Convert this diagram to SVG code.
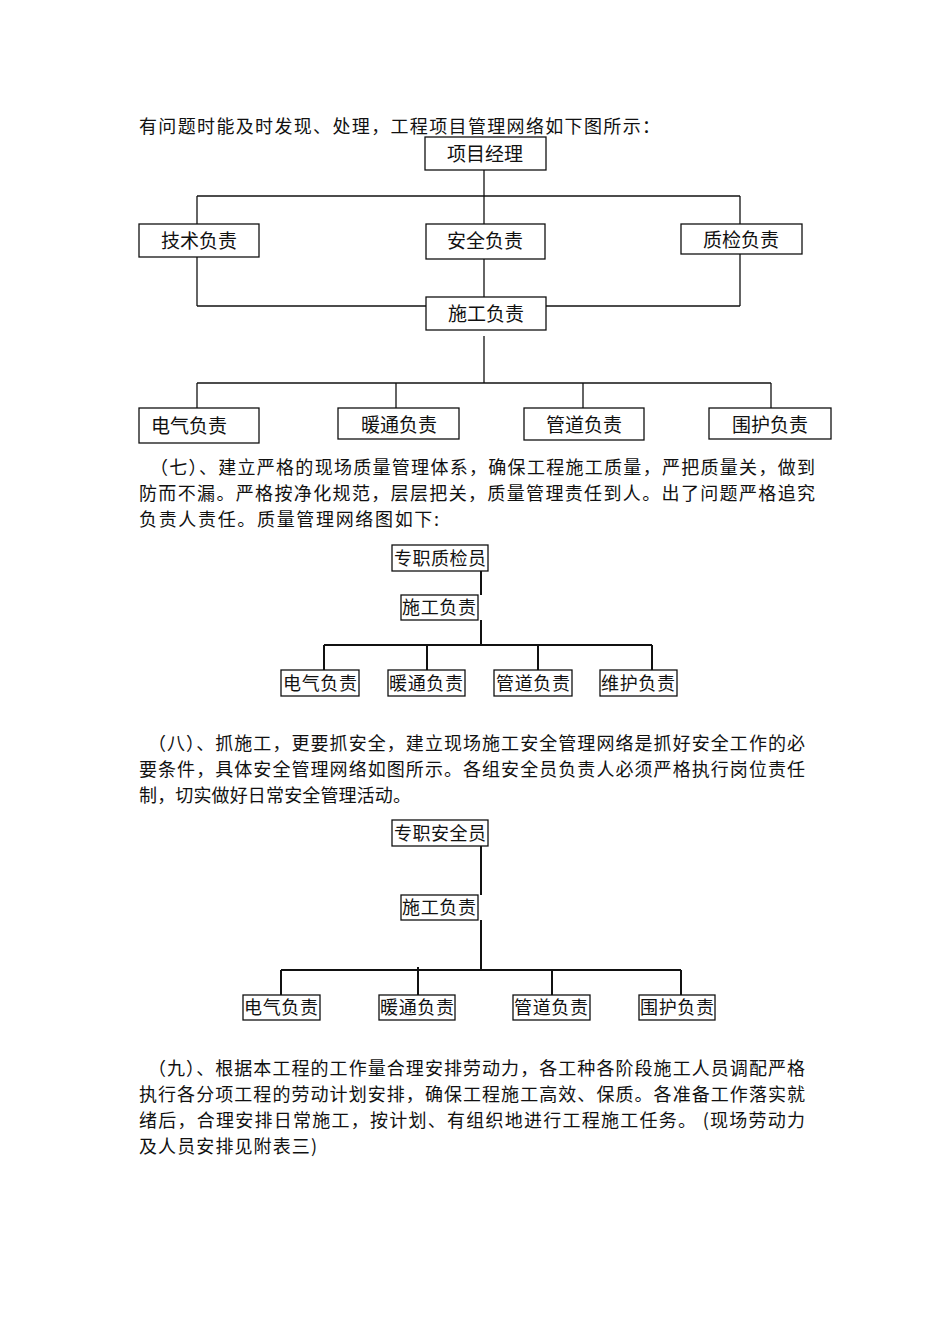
<svg xmlns="http://www.w3.org/2000/svg" width="950" height="1340" viewBox="0 0 950 1340">
<style>
text{font-family:"Noto Sans CJK SC","Liberation Serif",serif;fill:#111}
.p{font-size:18px}
.b{font-size:19px;text-anchor:middle}
.s{font-size:18px;text-anchor:middle}
rect{fill:#fff;stroke:#111;stroke-width:1.3}
.c line{stroke:#111;stroke-width:1.3}
.k line{stroke:#111;stroke-width:2}
</style>
<rect width="950" height="1340" style="fill:#fff;stroke:none"/>
<text class="p" x="139" y="133" textLength="521">有问题时能及时发现、处理，工程项目管理网络如下图所示：</text>
<g class="c" id="conn1">
<line x1="484" y1="170" x2="484" y2="224"/>
<line x1="197" y1="196" x2="740" y2="196"/>
<line x1="197" y1="196" x2="197" y2="224"/>
<line x1="740" y1="196" x2="740" y2="224"/>
<line x1="197" y1="257" x2="197" y2="306"/>
<line x1="197" y1="306" x2="426" y2="306"/>
<line x1="740" y1="254" x2="740" y2="306"/>
<line x1="546" y1="306" x2="740" y2="306"/>
<line x1="484" y1="259" x2="484" y2="297"/>
<line x1="484" y1="336" x2="484" y2="383"/>
<line x1="197" y1="383" x2="771" y2="383"/>
<line x1="197" y1="383" x2="197" y2="408"/>
<line x1="396" y1="383" x2="396" y2="408"/>
<line x1="583" y1="383" x2="583" y2="408"/>
<line x1="771" y1="383" x2="771" y2="408"/>
</g>
<g id="n1"><rect x="425" y="137" width="121" height="33"/><text class="b" x="485" y="161">项目经理</text></g>
<g id="n2"><rect x="139" y="224" width="120" height="33"/><text class="b" x="199" y="248">技术负责</text></g>
<g id="n3"><rect x="426" y="224" width="119" height="35"/><text class="b" x="485" y="248">安全负责</text></g>
<g id="n4"><rect x="681" y="224" width="121" height="30"/><text class="b" x="741" y="247">质检负责</text></g>
<g id="n5"><rect x="426" y="297" width="120" height="33"/><text class="b" x="486" y="321">施工负责</text></g>
<g id="n6"><rect x="139" y="408" width="120" height="35"/><text class="b" x="189" y="433">电气负责</text></g>
<g id="n7"><rect x="338" y="408" width="121" height="31"/><text class="b" x="399" y="432">暖通负责</text></g>
<g id="n8"><rect x="524" y="408" width="120" height="32"/><text class="b" x="584" y="432">管道负责</text></g>
<g id="n9"><rect x="709" y="408" width="122" height="31"/><text class="b" x="770" y="432">围护负责</text></g>

<text class="p" x="150" y="474" textLength="665">（七）、建立严格的现场质量管理体系，确保工程施工质量，严把质量关，做到</text>
<text class="p" x="139" y="500" textLength="676">防而不漏。严格按净化规范，层层把关，质量管理责任到人。出了问题严格追究</text>
<text class="p" x="139" y="526" textLength="300">负责人责任。质量管理网络图如下:</text>

<g class="k" id="conn2">
<line x1="481" y1="571" x2="481" y2="595"/>
<line x1="481" y1="620" x2="481" y2="645"/>
<line x1="324" y1="645" x2="652" y2="645"/>
<line x1="324" y1="645" x2="324" y2="670"/>
<line x1="427" y1="645" x2="427" y2="670"/>
<line x1="538" y1="645" x2="538" y2="670"/>
<line x1="652" y1="645" x2="652" y2="670"/>
</g>
<g id="q1"><rect x="392" y="545" width="96" height="26"/><text class="s" x="440" y="565" textLength="92">专职质检员</text></g>
<g id="q2"><rect x="401" y="595" width="77" height="25"/><text class="s" x="439" y="614" textLength="74">施工负责</text></g>
<g id="q3"><rect x="281" y="670" width="78" height="26"/><text class="s" x="320" y="690" textLength="74">电气负责</text></g>
<g id="q4"><rect x="388" y="670" width="77" height="26"/><text class="s" x="426" y="690" textLength="74">暖通负责</text></g>
<g id="q5"><rect x="494" y="670" width="78" height="26"/><text class="s" x="533" y="690" textLength="74">管道负责</text></g>
<g id="q6"><rect x="600" y="670" width="77" height="26"/><text class="s" x="638" y="690" textLength="74">维护负责</text></g>

<text class="p" x="148" y="750" textLength="657">（八）、抓施工，更要抓安全，建立现场施工安全管理网络是抓好安全工作的必</text>
<text class="p" x="139" y="776" textLength="666">要条件，具体安全管理网络如图所示。各组安全员负责人必须严格执行岗位责任</text>
<text class="p" x="139" y="802" textLength="272">制，切实做好日常安全管理活动。</text>

<g class="k" id="conn3">
<line x1="481" y1="846" x2="481" y2="895"/>
<line x1="481" y1="920" x2="481" y2="970"/>
<line x1="281" y1="970" x2="681" y2="970"/>
<line x1="281" y1="970" x2="281" y2="995"/>
<line x1="418" y1="967" x2="418" y2="995"/>
<line x1="552" y1="970" x2="552" y2="995"/>
<line x1="681" y1="970" x2="681" y2="995"/>
</g>
<g id="s1"><rect x="392" y="820" width="96" height="26"/><text class="s" x="440" y="840" textLength="92">专职安全员</text></g>
<g id="s2"><rect x="401" y="895" width="77" height="25"/><text class="s" x="439" y="914" textLength="74">施工负责</text></g>
<g id="s3"><rect x="243" y="995" width="77" height="25"/><text class="s" x="281" y="1014" textLength="74">电气负责</text></g>
<g id="s4"><rect x="379" y="995" width="76" height="25"/><text class="s" x="417" y="1014" textLength="74">暖通负责</text></g>
<g id="s5"><rect x="513" y="995" width="77" height="25"/><text class="s" x="551" y="1014" textLength="74">管道负责</text></g>
<g id="s6"><rect x="639" y="995" width="76" height="25"/><text class="s" x="677" y="1014" textLength="74">围护负责</text></g>

<text class="p" x="148" y="1075" textLength="657">（九）、根据本工程的工作量合理安排劳动力，各工种各阶段施工人员调配严格</text>
<text class="p" x="139" y="1101" textLength="666">执行各分项工程的劳动计划安排，确保工程施工高效、保质。各准备工作落实就</text>
<text class="p" x="139" y="1127" textLength="666">绪后，合理安排日常施工，按计划、有组织地进行工程施工任务。 (现场劳动力</text>
<text class="p" x="139" y="1153" textLength="178">及人员安排见附表三)</text>
</svg>
